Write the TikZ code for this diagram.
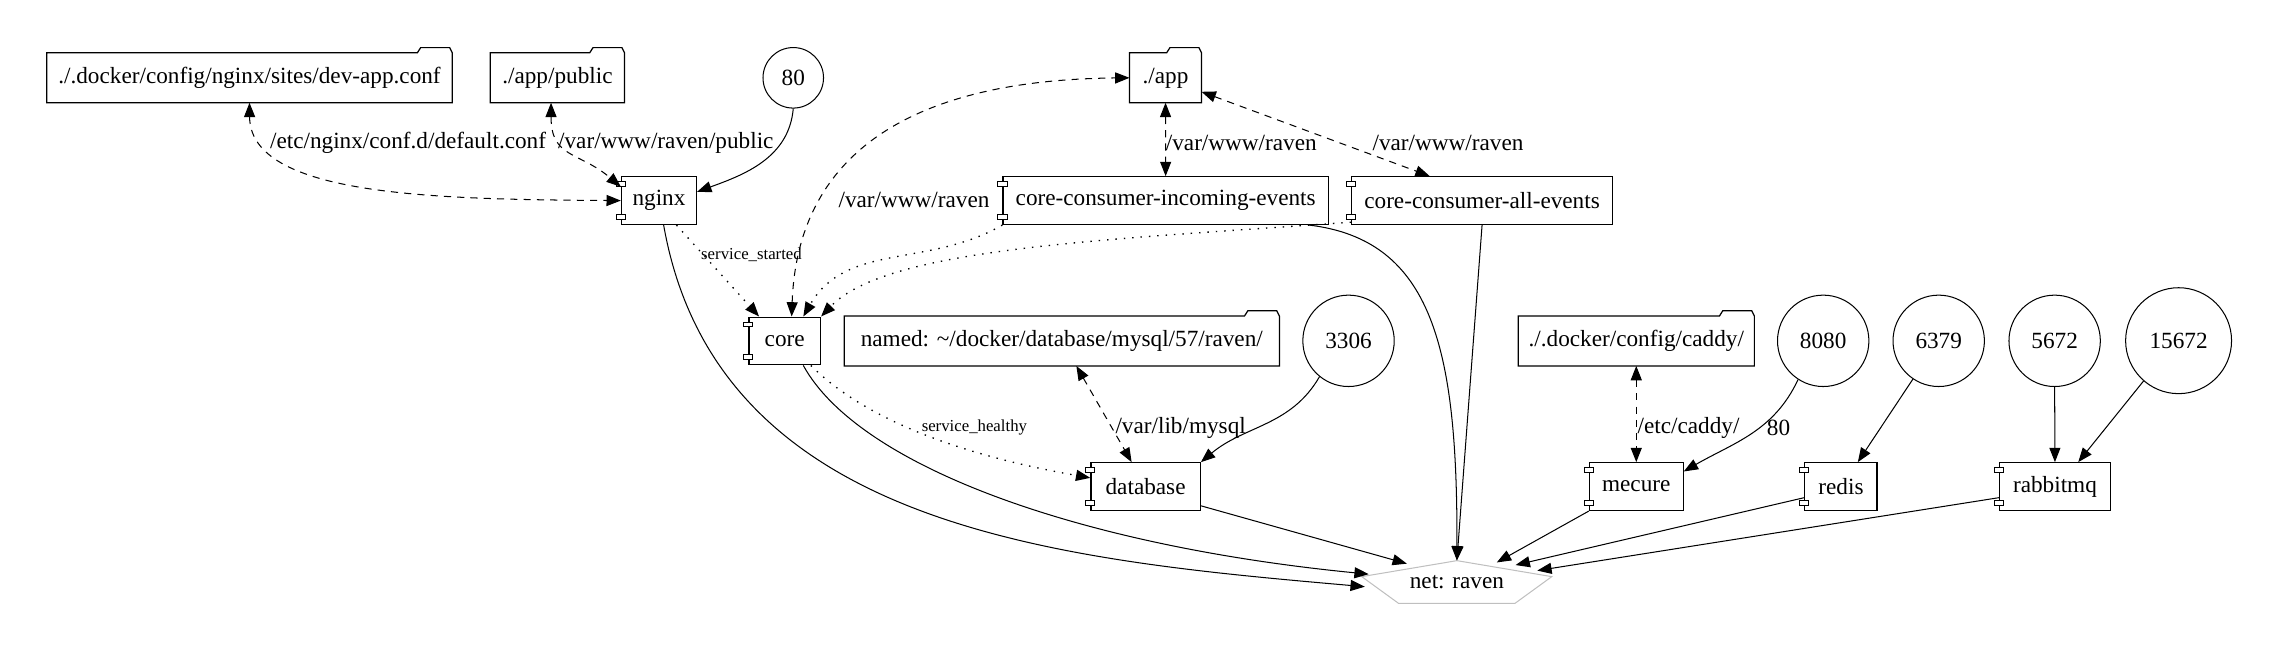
\documentclass[tikz,border=0pt]{standalone}
\usepackage{fontspec}
\setmainfont{Liberation Serif}
\usetikzlibrary{shapes.geometric, arrows.meta, calc}

\begin{document}
\begin{tikzpicture}[x=0.025cm, y=-0.025cm, line width=0.5pt,
    font=\fontsize{11.35}{13.6}\selectfont,
    >={Triangle[length=7pt,width=5.4pt]},
    comp/.style={draw, line width=0.6pt, rectangle, minimum height=0.82cm, inner sep=0pt},
    folder/.style={rectangle, minimum height=0.84cm, inner sep=0pt},
    port/.style={draw, circle, minimum size=1.57cm, inner sep=0pt},
    netnode/.style={ellipse, minimum width=3.23cm, minimum height=0.72cm, inner sep=0pt},
    vol/.style={<->, dash pattern=on 3.5pt off 3pt},
    dep/.style={->, line width=0.65pt, dash pattern=on 0.7pt off 3.4pt},
    link/.style={->},
    lbl/.style={inner sep=1pt},
    small/.style={inner sep=1pt, font=\fontsize{8.2}{10}\selectfont}]

    \useasboundingbox (0,0) rectangle (1568,451);

    % volumes and ports, top row
    \node[folder, minimum width=6.95cm] (devapp) at (171.5,53.5) {./.docker/config/nginx/sites/dev-app.conf};
    \node[folder, minimum width=2.29cm] (apppub) at (383.2,53.5) {./app/public};
    \node[port, minimum size=1.04cm] (p80) at (545.3,53.5) {80};
    \node[folder, minimum width=1.22cm] (app) at (801.2,53.5) {./app};

    % services
    \node[comp, minimum width=1.29cm] (nginx) at (453,137.9) {nginx};
    \node[comp, minimum width=5.59cm] (incoming) at (801.3,137.9) {core-consumer-incoming-events};
    \node[comp, minimum width=4.48cm] (allev) at (1018.8,137.9) {core-consumer-all-events};

    \node[comp, minimum width=1.23cm] (core) at (539.4,234.4) {core};
    \node[folder, minimum width=7.46cm] (named) at (729.9,234.4) {named: \textasciitilde/docker/database/mysql/57/raven/};
    \node[port] (p3306) at (927,234.3) {3306};
    \node[folder, minimum width=4.04cm] (caddy) at (1124.8,234.4) {./.docker/config/caddy/};
    \node[port] (p8080) at (1253.3,234.3) {8080};
    \node[port] (p6379) at (1332.7,234.3) {6379};
    \node[port] (p5672) at (1412.4,234.3) {5672};
    \node[port, minimum size=1.82cm] (p15672) at (1497.6,234.2) {15672};

    \node[comp, minimum width=1.88cm] (database) at (787.5,334.5) {database};
    \node[comp, minimum width=1.61cm] (mecure) at (1124.8,334.5) {mecure};
    \node[comp, minimum width=1.24cm] (redis) at (1265.5,334.5) {redis};
    \node[comp, minimum width=1.9cm] (rabbitmq) at (1412.6,334.5) {rabbitmq};

    % network
    \node[netnode] (net) at (1001.5,400) {net: raven};
    \draw[black!25, shift={(net.center)}] (0,-14.6) -- (65.2,-3.6) -- (40,14.7) -- (-40.2,14.7) -- (-65.4,-3.6) -- cycle;

    \foreach \f in {devapp,apppub,app,named,caddy}
        \draw[line width=0.6pt] (\f.north west) -- ([xshift=-0.6cm]\f.north east) -- ++(0.057cm,0.09cm)
            -- ([xshift=-0.045cm,yshift=0.09cm]\f.north east) -- (\f.north east)
            -- (\f.south east) -- (\f.south west) -- cycle;

    \foreach \c in {nginx,incoming,allev,core,database,mecure,redis,rabbitmq} {
        \draw[fill=white] ([xshift=-0.08cm,yshift=-0.1cm]\c.north west) rectangle ++(0.16cm,-0.08cm);
        \draw[fill=white] ([xshift=-0.08cm,yshift=0.1cm]\c.south west) rectangle ++(0.16cm,0.08cm);
    }

    % mounts
    \draw[vol] (devapp.south) .. controls (172,135) and (300,137) .. (nginx.west);
    \draw[vol] ([xshift=-0.11cm]apppub.south) to[out=-90,in=140,looseness=1.3] (nginx.160);
    \draw[vol] ([xshift=0.12cm]core.north) .. controls (548,110) and (620,55) .. (app.west);
    \draw[vol] (app.south) -- (incoming.north);
    \draw[vol] ([yshift=-0.24cm]app.east) -- ([xshift=-0.9cm]allev.north);
    \draw[vol] ([xshift=0.25cm]named.south) -- ([xshift=-0.24cm]database.north);
    \draw[vol] (caddy.south) -- (mecure.north);

    % ports
    \draw[link] (p80.south) to[out=-95,in=20] (nginx.13);
    \draw[link] (p3306.231) to[out=-120,in=40] (database.north east);
    \draw[link] (p8080.237) to[out=-115,in=30] ([yshift=0.26cm]mecure.east);
    \draw[link] (p6379.236) -- ([xshift=0.29cm]redis.north);
    \draw[link] (p5672.south) -- (rabbitmq.north);
    \draw[link] (p15672.229) -- ([xshift=0.4cm]rabbitmq.north);

    % depends_on
    \draw[dep] ([xshift=0.3cm]nginx.south) -- ([xshift=-0.44cm]core.north);
    \draw[dep] (incoming.south west) to[out=-150,in=60] ([xshift=0.32cm]core.north);
    \draw[dep] ([yshift=0.05cm]allev.south west) .. controls (760,165) and (610,170) .. (core.north east);
    \draw[dep] ([xshift=0.45cm]core.south) to[out=-45,in=170,looseness=0.8] ([yshift=0.15cm]database.west);

    % networks
    \draw[link] ([xshift=0.08cm]nginx.south) to[out=-80,in=175] (net.183);
    \draw[link] ([xshift=0.32cm]core.south) .. controls (590,320) and (740,375) .. (net.175);
    \draw[link] ([xshift=-0.34cm]incoming.south east) .. controls (985,165) and (1002,240) .. (net.north);
    \draw[link] (allev.south) -- (net.north);
    \draw[link] ([yshift=-0.33cm]database.east) -- (net.160);
    \draw[link] (mecure.south west) -- (net.26);
    \draw[link] ([yshift=-0.19cm]redis.west) -- (net.16);
    \draw[link] ([yshift=-0.19cm]rabbitmq.west) -- (net.8);

    % labels
    \node[lbl] (l1) at (280.5,98.1) {/etc/nginx/conf.d/default.conf};
    \node[lbl] (l2) at (457.7,98.1) {/var/www/raven/public};
    \node[lbl] (l3) at (628.3,137.5) {/var/www/raven};
    \node[lbl] (l4) at (853.3,98.1) {/var/www/raven};
    \node[lbl] (l5) at (995.4,98.1) {/var/www/raven};
    \node[small] (l6) at (516.6,175.3) {service\_started};
    \node[small] (l7) at (669.8,294) {service\_healthy};
    \node[lbl] (l8) at (811.6,294) {/var/lib/mysql};
    \node[lbl] (l9) at (1160.7,294.4) {/etc/caddy/};
    \node[lbl] (l10) at (1222.6,294.4) {80};
\end{tikzpicture}
\end{document}
